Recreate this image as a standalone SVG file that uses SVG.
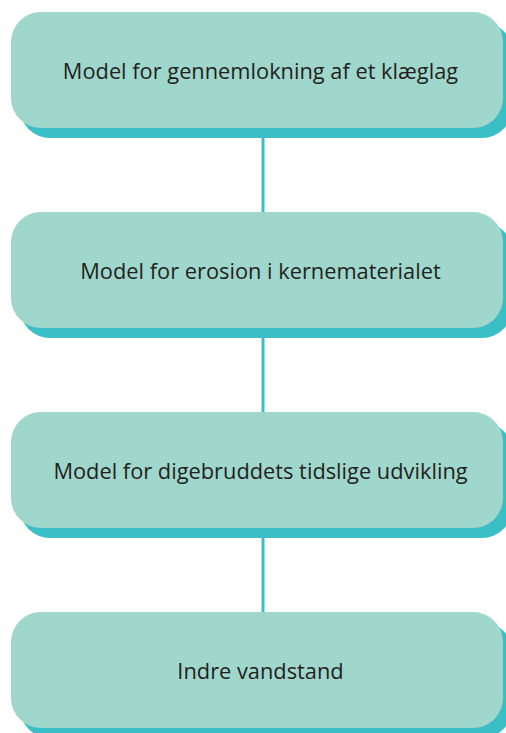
<svg xmlns="http://www.w3.org/2000/svg" width="506" height="733" viewBox="0 0 506 733">
<style>
.sh{fill:#3bbfc6}
.fr{fill:#a0d7cc}
.t{font-family:"Open Sans","DejaVu Sans",sans-serif;font-size:21.8px;fill:#231f20;text-anchor:middle;dominant-baseline:central}
.c{stroke:#3bbfc6;stroke-width:3;fill:none}
</style>
<rect width="506" height="733" fill="#fff"/>
<g id="connectors">
<line class="c" x1="263" y1="128" x2="263" y2="212"/>
<line class="c" x1="263" y1="328" x2="263" y2="412"/>
<line class="c" x1="263" y1="528" x2="263" y2="612"/>
</g>
<g id="n1">
<rect class="sh" x="20" y="22" width="492" height="116" rx="30"/>
<rect class="fr" x="11" y="12" width="492" height="116" rx="30"/>
<text class="t" x="260.5" y="70">Model for gennemlokning af et klæglag</text>
</g>
<g id="n2">
<rect class="sh" x="20" y="222" width="492" height="116" rx="30"/>
<rect class="fr" x="11" y="212" width="492" height="116" rx="30"/>
<text class="t" x="260.5" y="270">Model for erosion i kernematerialet</text>
</g>
<g id="n3">
<rect class="sh" x="20" y="422" width="492" height="116" rx="30"/>
<rect class="fr" x="11" y="412" width="492" height="116" rx="30"/>
<text class="t" x="260.5" y="470">Model for digebruddets tidslige udvikling</text>
</g>
<g id="n4">
<rect class="sh" x="20" y="622" width="492" height="116" rx="30"/>
<rect class="fr" x="11" y="612" width="492" height="116" rx="30"/>
<text class="t" x="260.5" y="670">Indre vandstand</text>
</g>
</svg>
